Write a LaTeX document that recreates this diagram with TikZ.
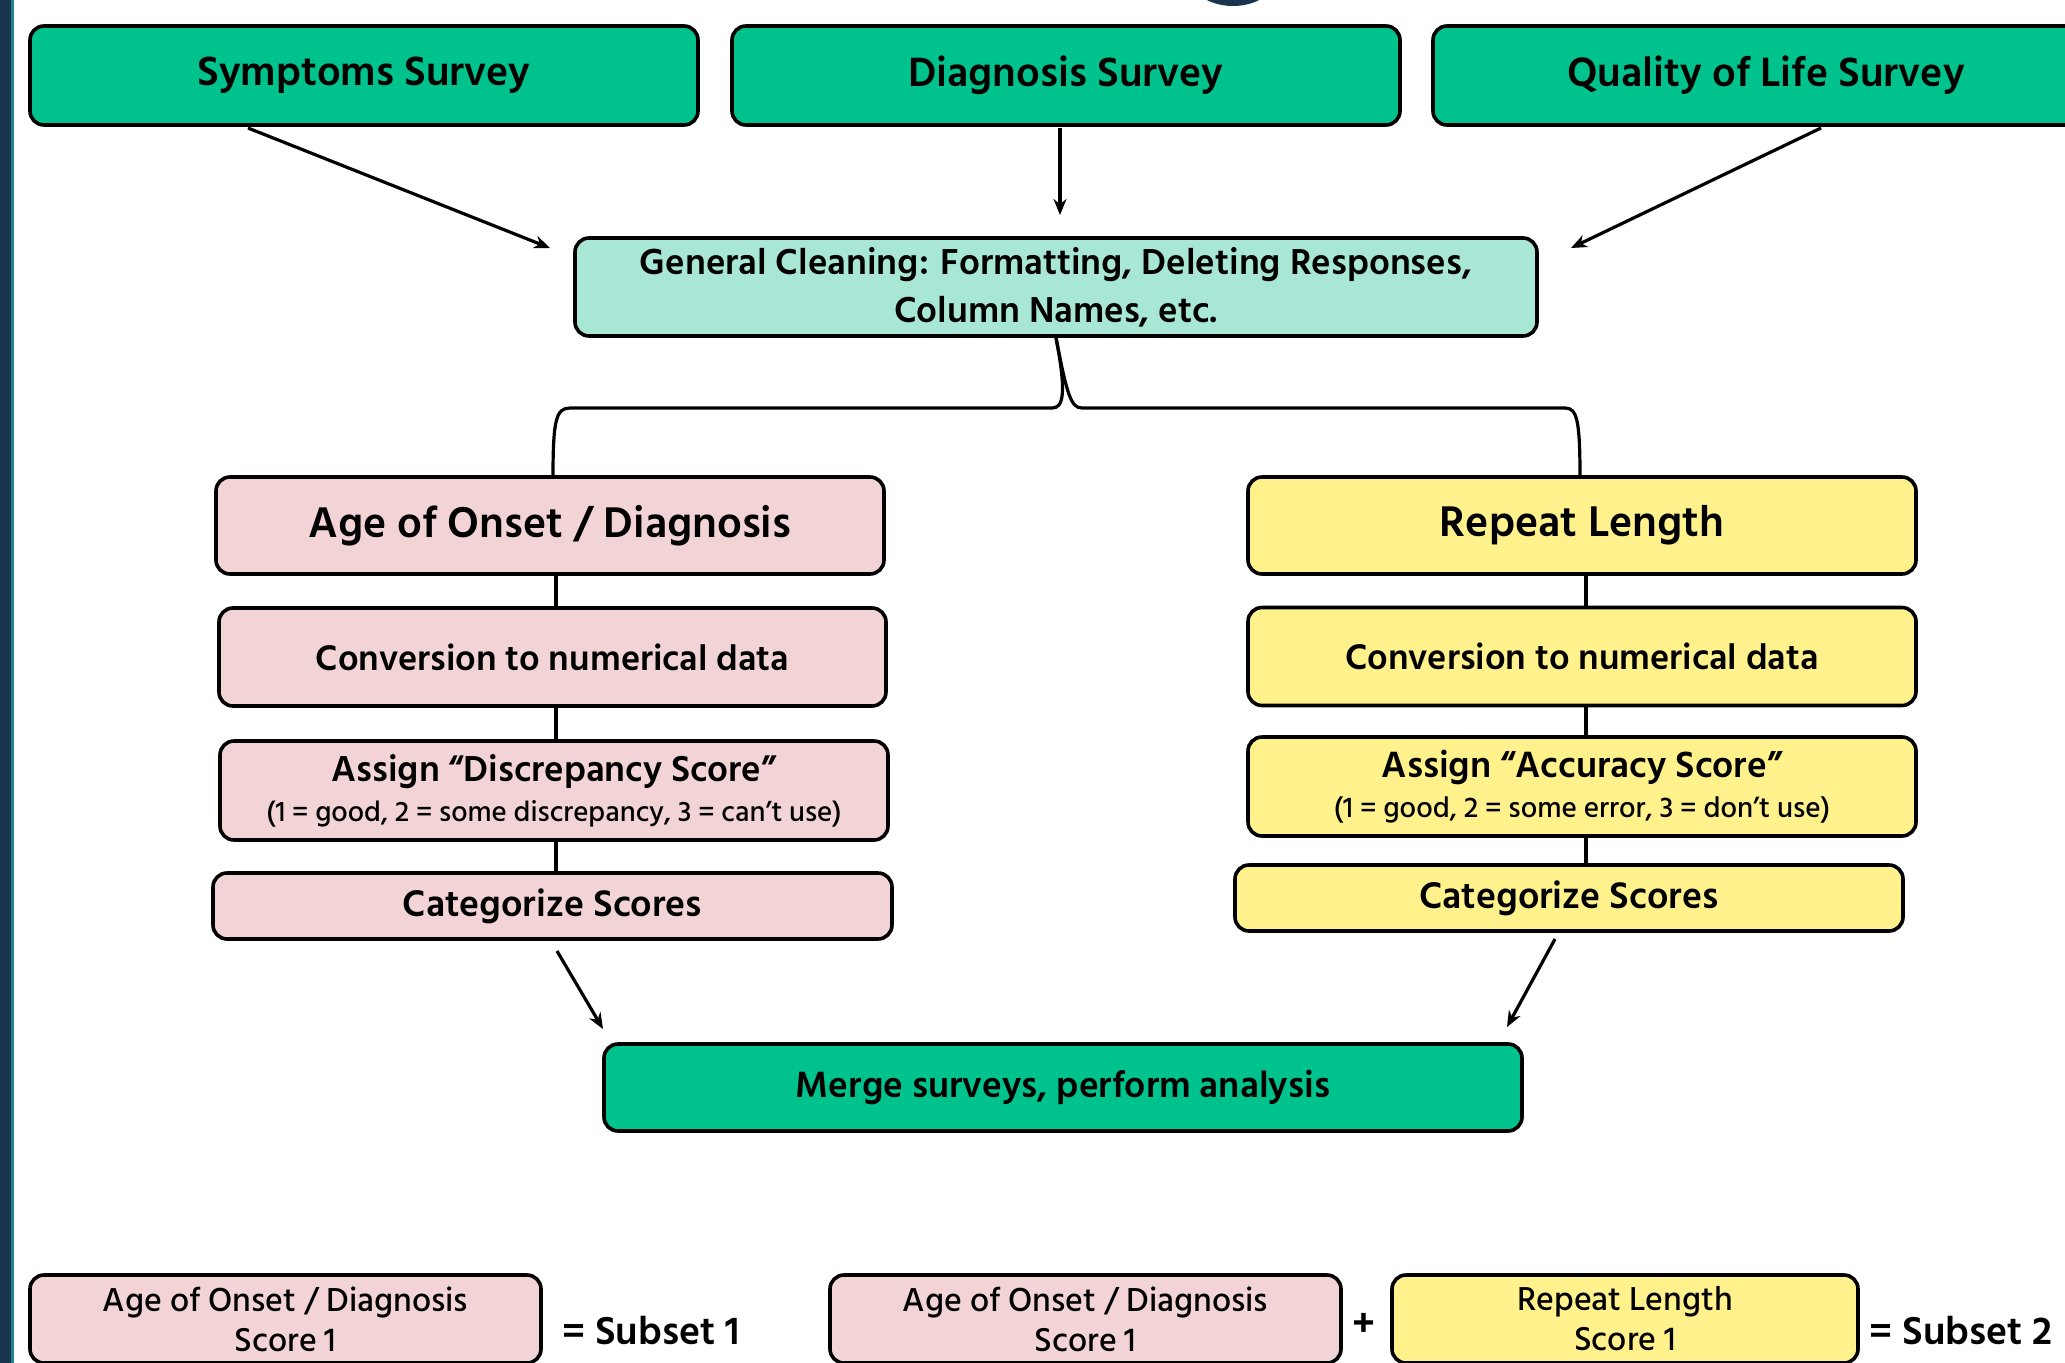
\documentclass[tikz,border=0pt]{standalone}
\usepackage{fontspec}
\setmainfont{Hind Siliguri}[UprightFont=* Medium, BoldFont=* SemiBold]
\usetikzlibrary{arrows.meta}
\definecolor{cgreen}{RGB}{0,194,140}
\definecolor{cteal}{RGB}{168,230,214}
\definecolor{cpink}{RGB}{242,212,215}
\definecolor{cyellow}{RGB}{255,241,140}
\definecolor{cnavy}{RGB}{24,52,78}
\definecolor{cstrip}{RGB}{28,138,138}
\newcommand{\fs}[2]{\fontsize{#1}{#2}\selectfont}
\begin{document}
\begin{tikzpicture}[x=1pt,y=-1pt,
  box/.style={draw=black, line width=3.6pt, rounded corners=14pt, align=center, inner sep=0pt, text=black},
  conn/.style={draw=black, line width=3.2pt},
  arr/.style={draw=black, line width=3.2pt, -{Stealth[length=16pt,width=13pt]}}]
\useasboundingbox (0,0) rectangle (2065,1363);
\begin{scope}
\clip (0,0) rectangle (2065,1363);
\fill[white] (0,0) rectangle (2065,1363);
\fill[cnavy] (0,0) rectangle (11,1363);
\fill[cstrip] (11,0) rectangle (14,1363);
\fill[cnavy] (1233,-55) circle (61);
% top row
\node[box, fill=cgreen, minimum width=668, minimum height=99, font=\bfseries\fs{42}{50}] (sym) at (364,75.5) {Symptoms Survey};
\node[box, fill=cgreen, minimum width=668, minimum height=99, font=\bfseries\fs{42}{50}] (dia) at (1066,75.5) {Diagnosis Survey};
\node[box, fill=cgreen, minimum width=666, minimum height=99, font=\bfseries\fs{42}{50}] (qol) at (1766,75.5) {Quality of Life Survey};
% general cleaning
\node[box, fill=cteal, minimum width=962, minimum height=98, font=\bfseries\fs{37}{48}] (gen) at (1056,287) {General Cleaning: Formatting, Deleting Responses,\\Column Names, etc.};
% left column
\node[box, fill=cpink, minimum width=668, minimum height=97, font=\bfseries\fs{44}{50}] (age) at (550,525.5) {Age of Onset / Diagnosis};
\node[box, fill=cpink, minimum width=667, minimum height=98, font=\bfseries\fs{36.5}{44}] (convL) at (552.5,657) {Conversion to numerical data};
\node[box, fill=cpink, minimum width=668, minimum height=99, font=\bfseries\fs{37}{40}] (assL) at (554,790.5) {Assign “Discrepancy Score”\\{\mdseries\fs{29}{40}(1 = good, 2 = some discrepancy, 3 = can’t use)}};
\node[box, fill=cpink, minimum width=679, minimum height=66, font=\bfseries\fs{38}{44}] (catL) at (552.5,906) {Categorize Scores};
% right column
\node[box, fill=cyellow, minimum width=668, minimum height=97, font=\bfseries\fs{44}{50}] (rep) at (1582,525.5) {Repeat Length};
\node[box, fill=cyellow, minimum width=668, minimum height=98, font=\bfseries\fs{36.5}{44}] (convR) at (1582,656.5) {Conversion to numerical data};
\node[box, fill=cyellow, minimum width=668, minimum height=99, font=\bfseries\fs{37.5}{40}] (assR) at (1582,786.5) {Assign “Accuracy Score”\\{\mdseries\fs{29.3}{40}(1 = good, 2 = some error, 3 = don’t use)}};
\node[box, fill=cyellow, minimum width=668, minimum height=66, font=\bfseries\fs{38}{44}] (catR) at (1569,898) {Categorize Scores};
% merge
\node[box, fill=cgreen, minimum width=918, minimum height=87, font=\bfseries\fs{37.5}{44}] (merge) at (1063,1087.5) {Merge surveys, perform analysis};
% bottom
\node[box, fill=cpink, minimum width=511, minimum height=88, font=\mdseries\fs{34}{40}] (b1) at (285.5,1319) {Age of Onset / Diagnosis\\Score 1};
\node[font=\bfseries\fs{40}{44}] (s1) at (651,1331) {= Subset 1};
\node[box, fill=cpink, minimum width=511, minimum height=88, font=\mdseries\fs{34}{40}] (b2) at (1085.5,1319) {Age of Onset / Diagnosis\\Score 1};
\node[font=\bfseries\fs{40}{44}] (plus) at (1364,1325) {+};
\node[box, fill=cyellow, minimum width=466, minimum height=88, font=\mdseries\fs{34}{40}] (b3) at (1625,1319) {Repeat Length\\Score 1};
\node[font=\bfseries\fs{40}{44}] (s2) at (1961,1331) {= Subset 2};
% arrow coordinates
\coordinate (t1a) at (248,128); \coordinate (t1b) at (550,248);
\coordinate (t2a) at (1060,128); \coordinate (t2b) at (1060,215);
\coordinate (t3a) at (1821,128); \coordinate (t3b) at (1571,248);
\coordinate (mLa) at (557,951); \coordinate (mLb) at (603,1029);
\coordinate (mRa) at (1555,939); \coordinate (mRb) at (1507,1027);
\draw[arr] (t1a) -- (t1b);
\draw[arr] (t2a) -- (t2b);
\draw[arr] (t3a) -- (t3b);
\draw[arr] (mLa) -- (mLb);
\draw[arr] (mRa) -- (mRb);
% brace
\coordinate (bL) at (553,477);
\coordinate (bR) at (1580,477);
\draw[conn] (gen.south) .. controls (1067,395) and (1063,408) .. (1052,408) -- (570,408) .. controls (556,408) and (553,420) .. (bL);
\draw[conn] (gen.south) .. controls (1067,395) and (1071,408) .. (1082,408) -- (1565,408) .. controls (1577,408) and (1580,420) .. (bR);
% vertical connectors
\coordinate (xL) at (556,0);
\coordinate (xR) at (1586,0);
\draw[conn] (age.south -| xL) -- (convL.north -| xL);
\draw[conn] (convL.south -| xL) -- (assL.north -| xL);
\draw[conn] (assL.south -| xL) -- (catL.north -| xL);
\draw[conn] (rep.south -| xR) -- (convR.north -| xR);
\draw[conn] (convR.south -| xR) -- (assR.north -| xR);
\draw[conn] (assR.south -| xR) -- (catR.north -| xR);
\end{scope}
\end{tikzpicture}
\end{document}
